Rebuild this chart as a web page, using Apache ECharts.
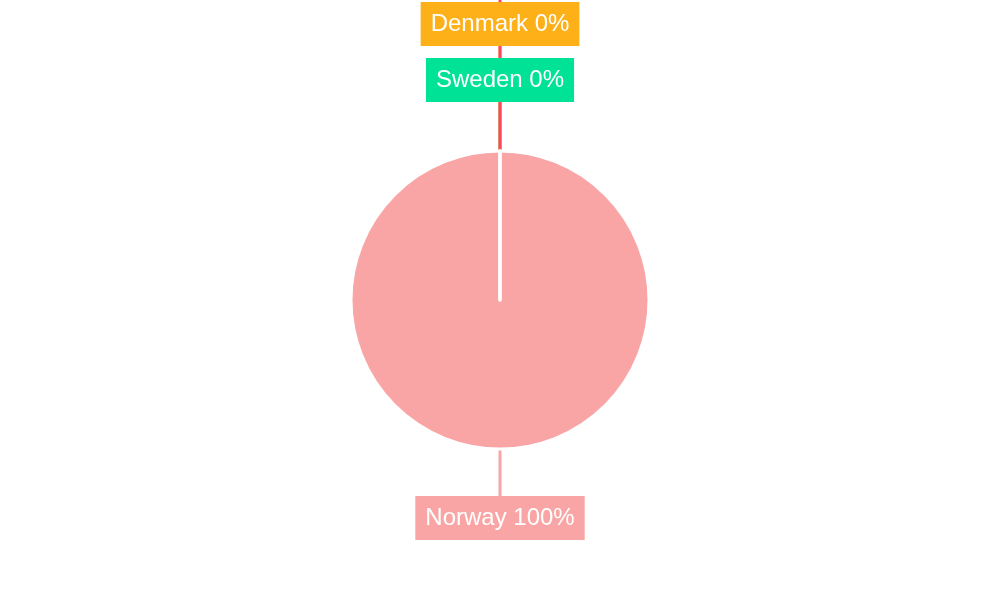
<!DOCTYPE html>
<html><head><meta charset="utf-8">
<script src="https://cdn.jsdelivr.net/npm/echarts@6/dist/echarts.min.js"></script>
<style>html,body{margin:0;padding:0;background:#fff}#c{width:1000px;height:600px}</style>
</head><body><div id="c"></div>
<script>
const categories = ['Norway', 'Sweden', 'Denmark', 'Finland'];
const values = [100, 0, 0, 0];
const colors = ['#F9A5A5', '#00E396', '#FEB019', '#FF4560'];

const LABEL_STEP = 56; // label height 44 + margin 12

// stacking index among labels that share the same anchor (zero slices)
function stackIndex(i) {
  if (values[i] !== 0) return 0;
  let k = 0;
  for (let j = 0; j < i; j++) if (values[j] === 0) k++;
  return k;
}

const chart = echarts.init(document.getElementById('c'));
chart.setOption({
  animation: false,
  series: [{
    type: 'pie',
    center: ['50%', '50%'],
    radius: 149,
    startAngle: 90,
    percentPrecision: 0,
    avoidLabelOverlap: false,
    itemStyle: { borderColor: '#fff', borderWidth: 3 },
    label: {
      show: true,
      position: 'outside',
      formatter: '{b} {d}%',
      color: '#fff',
      fontFamily: 'Liberation Sans, Arial, sans-serif',
      fontSize: 24,
      lineHeight: 24,
      padding: [11, 10, 9, 10],
      distanceToLabelLine: 0
    },
    labelLine: { show: true, length: 70, length2: 0, smooth: false, lineStyle: { width: 3 } },
    labelLayout: function (params) {
      const k = stackIndex(params.dataIndex);
      const pts = params.labelLinePoints;
      const out = { align: 'center', verticalAlign: 'middle' };
      if (pts && pts.length) {
        const end = pts[pts.length - 1];
        const x = end[0];
        const y = end[1] - 1 - k * LABEL_STEP;
        out.x = x;
        out.y = y;
        out.labelLinePoints = [pts[0], [x, y]];
      }
      return out;
    },
    data: categories.map((c, i) => ({
      name: c, value: values[i],
      itemStyle: { color: colors[i] },
      label: { backgroundColor: colors[i] }
    }))
  }]
});
</script></body></html>
